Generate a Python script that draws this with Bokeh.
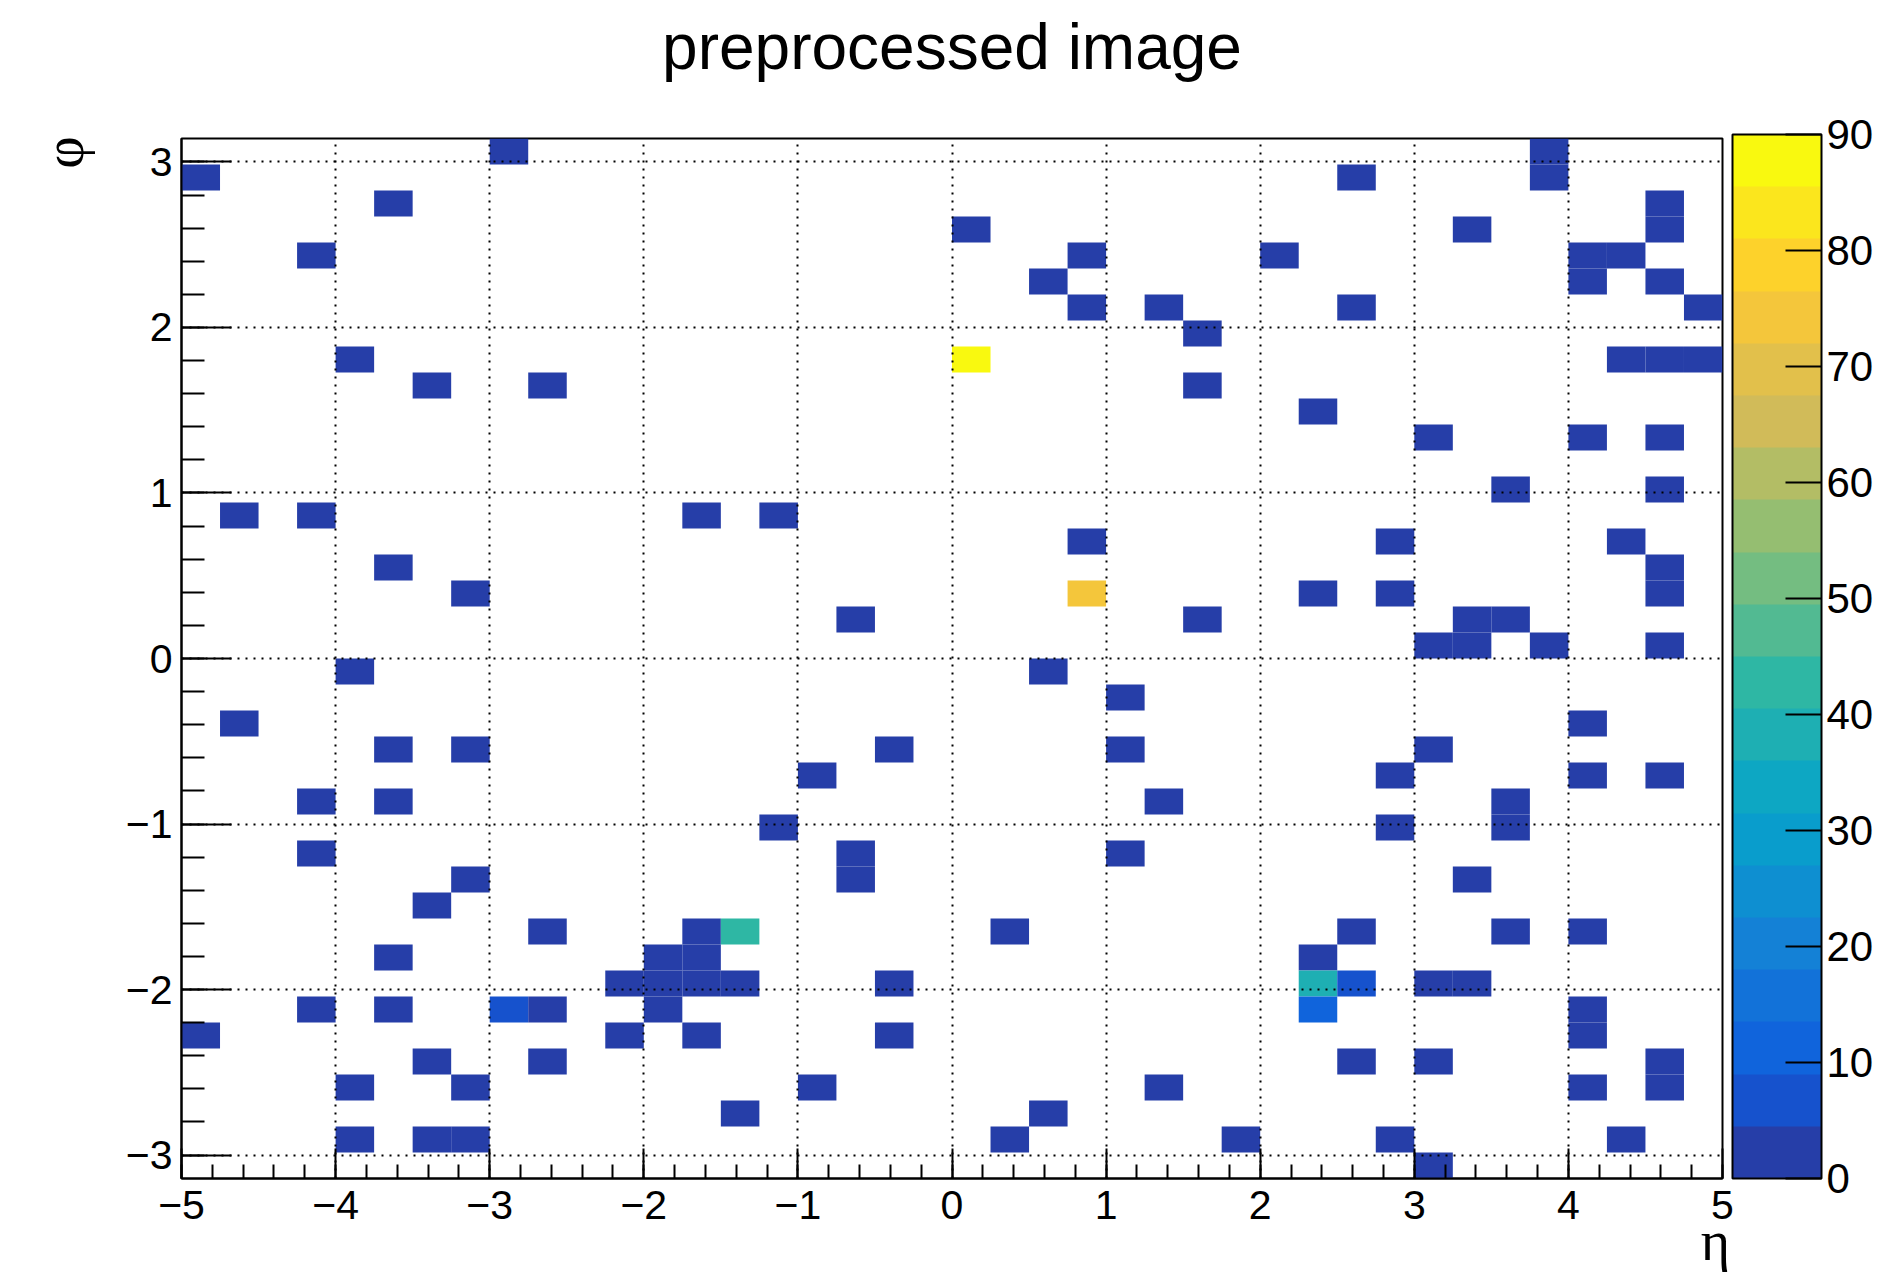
import numpy as np
from bokeh.plotting import figure
from bokeh.models import ColumnDataSource, LinearColorMapper, ColorBar, FixedTicker, Title
from bokeh.embed import file_html
from bokeh.resources import INLINE

title_text = "preprocessed image"
x_title = "η"
y_title = "φ"

eta_ticks = [-5, -4, -3, -2, -1, 0, 1, 2, 3, 4, 5]
phi_ticks = [-3, -2, -1, 0, 1, 2, 3]
z_ticks = [0, 10, 20, 30, 40, 50, 60, 70, 80, 90]
z_max = 90
n_eta = 40
n_phi = 40

# occupied cells: eta bin index (0..39), phi bin index (0..39), content
eta_bin = [
    8, 35,                      # phi row 39
    0, 30, 35,                  # 38
    5, 38,                      # 37
    20, 33, 38,                 # 36
    3, 23, 28, 36, 37,          # 35
    22, 36, 38,                 # 34
    23, 25, 30, 39,             # 33
    26,                         # 32
    4, 20, 37, 38, 39,          # 31
    6, 9, 26,                   # 30
    29,                         # 29
    32, 36, 38,                 # 28
    34, 38,                     # 26
    1, 3, 13, 15,               # 25
    23, 31, 37,                 # 24
    5, 38,                      # 23
    7, 23, 29, 31, 38,          # 22
    17, 26, 33, 34,             # 21
    32, 33, 35, 38,             # 20
    4, 22,                      # 19
    24,                         # 18
    1, 36,                      # 17
    5, 7, 18, 24, 32,           # 16
    16, 31, 36, 38,             # 15
    3, 5, 25, 34,               # 14
    15, 31, 34,                 # 13
    3, 17, 24,                  # 12
    7, 17, 33,                  # 11
    6,                          # 10
    9, 13, 14, 21, 30, 34, 36,  # 9
    5, 12, 13, 29,              # 8
    11, 12, 13, 14, 18, 29, 30, 32, 33,  # 7
    3, 5, 8, 9, 12, 29, 36,     # 6
    0, 11, 13, 18, 36,          # 5
    6, 9, 30, 32, 38,           # 4
    4, 7, 16, 25, 36, 38,       # 3
    14, 22,                     # 2
    4, 6, 7, 21, 27, 31, 37,    # 1
    32,                         # 0
]
phi_bin = (
    [39] * 2 + [38] * 3 + [37] * 2 + [36] * 3 + [35] * 5 + [34] * 3 + [33] * 4 + [32] * 1
    + [31] * 5 + [30] * 3 + [29] * 1 + [28] * 3 + [26] * 2 + [25] * 4 + [24] * 3 + [23] * 2
    + [22] * 5 + [21] * 4 + [20] * 4 + [19] * 2 + [18] * 1 + [17] * 2 + [16] * 5 + [15] * 4
    + [14] * 4 + [13] * 3 + [12] * 3 + [11] * 3 + [10] * 1 + [9] * 7 + [8] * 4 + [7] * 9
    + [6] * 7 + [5] * 5 + [4] * 5 + [3] * 6 + [2] * 2 + [1] * 7 + [0] * 1
)
special = {(20, 31): 90, (23, 22): 74, (14, 9): 43, (29, 7): 38, (30, 7): 7, (8, 6): 7, (29, 6): 12}
counts = [special.get((i, j), 2) for i, j in zip(eta_bin, phi_bin)]

# ROOT kBird palette, 20 contour levels
stops = [0.0, 0.125, 0.25, 0.375, 0.5, 0.625, 0.75, 0.875, 1.0]
red = [0.2082, 0.0592, 0.0780, 0.0232, 0.1802, 0.5301, 0.8186, 0.9956, 0.9764]
green = [0.1664, 0.3599, 0.5041, 0.6419, 0.7178, 0.7492, 0.7328, 0.7862, 0.9832]
blue = [0.5293, 0.8684, 0.8385, 0.7914, 0.6425, 0.4662, 0.3499, 0.1968, 0.0539]
table = []
for g in range(1, len(stops)):
    nc = int(np.floor(255 * stops[g]) - np.floor(255 * stops[g - 1]))
    for c in range(nc):
        table.append((red[g - 1] + c * (red[g] - red[g - 1]) / nc,
                      green[g - 1] + c * (green[g] - green[g - 1]) / nc,
                      blue[g - 1] + c * (blue[g] - blue[g - 1]) / nc))
ndiv = 20
palette = []
for k in range(ndiv):
    r, gg, b = table[min(int((k + 0.99) * 255 / ndiv), 254)]
    palette.append("#%02x%02x%02x" % (int(r * 255 + 0.5), int(gg * 255 + 0.5), int(b * 255 + 0.5)))

eta_edges = np.linspace(-5, 5, n_eta + 1)
phi_edges = np.linspace(-np.pi, np.pi, n_phi + 1)
src = ColumnDataSource(dict(
    left=[eta_edges[i] for i in eta_bin], right=[eta_edges[i + 1] for i in eta_bin],
    bottom=[phi_edges[j] for j in phi_bin], top=[phi_edges[j + 1] for j in phi_bin],
    count=counts))

mapper = LinearColorMapper(palette=palette, low=0, high=z_max)

FONT = "Liberation Sans"
SERIF = "Liberation Serif"
p = figure(width=1891, height=1274, x_range=(-5, 5), y_range=(-np.pi, np.pi),
           output_backend="svg", toolbar_location=None,
           min_border_left=181, min_border_right=169, min_border_top=138, min_border_bottom=92)
p.background_fill_color = "white"
p.border_fill_color = "white"
p.outline_line_color = "black"
p.outline_line_width = 2

p.title.text = title_text
p.title.align = "center"
p.title.vertical_align = "top"
p.title.text_font = FONT
p.title.text_font_size = "64px"
p.title.text_font_style = "normal"
p.title.text_color = "black"
p.title.standoff = 0
# blank spacer between frame and title
p.add_layout(Title(text=" ", text_font_size="2px", standoff=50), "above")

p.quad(left="left", right="right", bottom="bottom", top="top", source=src,
       fill_color={"field": "count", "transform": mapper}, line_color=None)

minor_x = [round(-5 + 0.2 * k, 2) for k in range(51)]
minor_y = [round(-3.2 + 0.2 * k, 2) for k in range(33)]
p.xaxis.ticker = FixedTicker(ticks=eta_ticks, minor_ticks=minor_x)
p.yaxis.ticker = FixedTicker(ticks=phi_ticks, minor_ticks=minor_y)
p.xaxis.major_label_overrides = {t: str(t).replace("-", "\u2212") for t in eta_ticks}
p.yaxis.major_label_overrides = {t: str(t).replace("-", "\u2212") for t in phi_ticks}
for ax, maj, mnr, so in ((p.xaxis, 30, 14, 12), (p.yaxis, 50, 23, 9)):
    ax.major_tick_in = maj
    ax.major_tick_out = 0
    ax.minor_tick_in = mnr
    ax.minor_tick_out = 0
    ax.axis_line_width = 2
    ax.major_tick_line_width = 2
    ax.minor_tick_line_width = 2
    ax.major_tick_line_color = "black"
    ax.minor_tick_line_color = "black"
    ax.axis_line_color = "black"
    ax.major_label_text_font = FONT
    ax.major_label_text_font_size = "41px"
    ax.major_label_text_color = "black"
    ax.major_label_standoff = so
    ax.axis_label_text_font = SERIF
    ax.axis_label_text_font_size = "56px"
    ax.axis_label_text_font_style = "normal"
    ax.axis_label_text_color = "black"
    ax.axis_label_align = "end"

p.xaxis.axis_label = x_title + " "
p.xaxis.axis_label_standoff = -12
p.yaxis.axis_label = y_title + "  "
p.yaxis.axis_label_standoff = 28

for grid, tk in ((p.xgrid, eta_ticks), (p.ygrid, phi_ticks)):
    grid.ticker = FixedTicker(ticks=tk)
    grid.grid_line_color = "black"
    grid.grid_line_width = 2
    grid.grid_line_dash = "2 6"
    grid.level = "overlay"

cb = ColorBar(color_mapper=mapper, ticker=FixedTicker(ticks=z_ticks), width=89, height=1044,
              padding=0, margin=0, location=(10, 0), major_tick_in=36, major_tick_out=0,
              minor_tick_in=0, minor_tick_out=0, major_tick_line_color="black",
              major_tick_line_width=2, bar_line_color="black", bar_line_width=2,
              label_standoff=5, major_label_text_font=FONT,
              major_label_text_font_size="42px", major_label_text_color="black",
              background_fill_color="white", border_line_color=None)
p.add_layout(cb, "right")

open("out.html", "w").write(file_html(p, INLINE))
